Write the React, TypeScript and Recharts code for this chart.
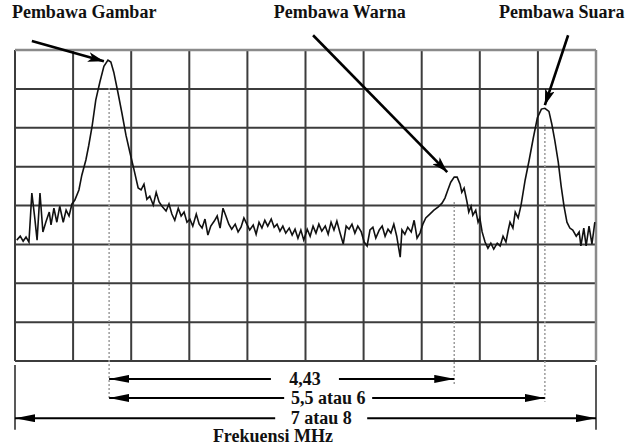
import React from "react";
import { LineChart, Line, XAxis, YAxis, CartesianGrid, ReferenceLine, ReferenceDot } from "recharts";

const FONT = '"Liberation Serif", "Times New Roman", Times, serif';

// Spectrum trace in screen divisions (x: 0-10 horizontal, y: 0-8 vertical)
const traceX = [
  0.03, 0.09, 0.14, 0.19, 0.24, 0.29, 0.34, 0.38, 0.43, 0.48, 0.53, 0.59, 0.62, 0.67, 0.72, 0.77, 0.83, 0.88, 0.93, 0.98,
  1.03, 1.1, 1.15, 1.22, 1.27, 1.33, 1.39, 1.46, 1.53, 1.6, 1.65, 1.7, 1.77, 1.84, 1.91, 1.98, 2.05, 2.12, 2.17, 2.22,
  2.27, 2.32, 2.38, 2.43, 2.48, 2.53, 2.6, 2.65, 2.7, 2.75, 2.81, 2.86, 2.91, 2.96, 3.01, 3.06, 3.12, 3.17, 3.22, 3.27,
  3.32, 3.37, 3.43, 3.48, 3.53, 3.58, 3.63, 3.68, 3.73, 3.79, 3.84, 3.89, 3.94, 3.99, 4.04, 4.1, 4.15, 4.2, 4.25, 4.3,
  4.35, 4.41, 4.46, 4.51, 4.56, 4.61, 4.66, 4.72, 4.77, 4.82, 4.87, 4.92, 4.97, 5.03, 5.08, 5.13, 5.18, 5.23, 5.28, 5.34,
  5.39, 5.44, 5.49, 5.54, 5.59, 5.65, 5.7, 5.75, 5.8, 5.85, 5.9, 5.96, 6.01, 6.06, 6.11, 6.16, 6.21, 6.27, 6.32, 6.37,
  6.42, 6.47, 6.52, 6.57, 6.63, 6.66, 6.71, 6.76, 6.82, 6.87, 6.92, 6.97, 7.02, 7.07, 7.14, 7.21, 7.28, 7.35, 7.4, 7.45,
  7.5, 7.56, 7.61, 7.66, 7.69, 7.73, 7.78, 7.81, 7.85, 7.88, 7.93, 7.97, 8.0, 8.04, 8.09, 8.14, 8.19, 8.24, 8.3, 8.35,
  8.4, 8.45, 8.49, 8.52, 8.57, 8.61, 8.66, 8.71, 8.78, 8.85, 8.92, 8.99, 9.06, 9.12, 9.19, 9.24, 9.29, 9.35, 9.4, 9.45,
  9.5, 9.55, 9.6, 9.66, 9.71, 9.74, 9.79, 9.83, 9.88, 9.93, 9.98,
];
const traceY = [
  3.11, 3.21, 3.08, 3.19, 3.06, 4.32, 3.68, 3.11, 4.32, 3.32, 3.57, 3.83, 3.5, 3.93, 3.57, 3.98, 3.57, 3.88, 3.73, 4.04,
  4.14, 4.4, 4.78, 5.17, 5.55, 6.07, 6.71, 7.17, 7.58, 7.74, 7.69, 7.43, 6.92, 6.38, 5.81, 5.35, 4.91, 4.45, 4.4, 4.55,
  4.16, 4.24, 4.01, 4.34, 4.09, 3.98, 3.86, 4.04, 3.78, 3.62, 3.93, 3.73, 3.83, 3.57, 3.65, 3.47, 3.78, 3.52, 3.42, 3.65,
  3.24, 3.47, 3.6, 3.73, 3.42, 3.93, 3.73, 3.52, 3.39, 3.52, 3.32, 3.44, 3.68, 3.52, 3.37, 3.5, 3.26, 3.57, 3.42, 3.62,
  3.47, 3.65, 3.44, 3.52, 3.34, 3.47, 3.29, 3.42, 3.24, 3.39, 3.16, 3.37, 3.11, 3.39, 3.21, 3.47, 3.29, 3.52, 3.34, 3.47,
  3.26, 3.57, 3.37, 3.6, 3.32, 3.01, 3.47, 3.39, 3.52, 3.29, 3.47, 3.32, 3.06, 2.96, 3.37, 3.44, 3.16, 3.37, 3.47, 3.21,
  3.39, 3.29, 3.52, 3.21, 2.67, 3.37, 3.26, 3.44, 3.32, 3.62, 3.16, 3.29, 3.52, 3.68, 3.78, 3.88, 3.96, 4.06, 4.19, 4.4,
  4.6, 4.73, 4.73, 4.55, 4.34, 4.45, 4.09, 3.83, 3.98, 3.75, 3.88, 3.57, 3.68, 3.32, 3.06, 2.9, 3.03, 2.88, 3.03, 2.96,
  3.21, 3.06, 3.37, 3.57, 3.42, 3.83, 3.68, 4.01, 4.65, 5.17, 5.73, 6.25, 6.48, 6.5, 6.42, 6.09, 5.68, 5.12, 4.5, 3.98,
  3.57, 3.42, 3.37, 3.21, 3.32, 2.96, 3.42, 2.96, 3.47, 3.01, 3.57,
];

const gridX = [0, 1, 2, 3, 4, 5, 6, 7, 8, 9, 10];
const gridY = [0, 1, 2, 3, 4, 5, 6, 7, 8];

// carriers: name, marker position, dotted guide extent, label and pointer arrow
const carrierNames = ["Pembawa Gambar", "Pembawa Warna", "Pembawa Suara"];
const carrierX = [1.62, 7.56, 9.12];
const guideTop = [7.02, 4.09, 6.07];
const guideBottom = [-1.0, -0.62, -1.05];
const nameX = [1.19, 5.59, 9.41];
const nameY = 8.97;
const pointerStart = [
  [0.29, 8.23],
  [5.13, 8.38],
  [9.52, 8.38],
];
const pointerEnd = [
  [1.53, 7.71],
  [7.44, 4.86],
  [9.12, 6.58],
];

// frequency spacings (MHz) drawn as dimension lines under the screen
const spanLabels = ["4,43", "5,5 atau 6", "7 atau 8"];
const spanFrom = [1.62, 1.62, 0];
const spanTo = [7.56, 9.12, 10];
const spanLevel = [-0.46, -0.95, -1.47];
const spanTextX = [4.99, 5.39, 5.27];
const spanGap = [34, 44, 46];
const endTickTop = -0.1;
const endTickBottom = -1.77;
const axisTitle = "Frekuensi MHz";
const axisTitleX = 4.44;
const axisTitleY = -1.93;

const data = traceX.map((x, i) => ({ x, y: traceY[i] }));

const arrowShape = (width: number, start: boolean, end: boolean, marker: string) => (p: any) => (
  <line
    x1={p.x1}
    y1={p.y1}
    x2={p.x2}
    y2={p.y2}
    stroke="#000"
    strokeWidth={width}
    markerStart={start ? `url(#${marker})` : undefined}
    markerEnd={end ? `url(#${marker})` : undefined}
  />
);

const textLabel = (text: string, gap = 0, size = 18) => (props: any) => {
  const vb = props.viewBox || { x: 0, y: 0, width: 0, height: 0 };
  const cx = vb.x + (vb.width || 0) / 2;
  const cy = vb.y + (vb.height || 0) / 2;
  return (
    <g>
      {gap > 0 && <rect x={cx - gap} y={cy - 9} width={gap * 2} height={18} fill="#fff" />}
      <text
        x={cx}
        y={cy}
        textAnchor="middle"
        dominantBaseline="central"
        style={{ fontFamily: FONT, fontWeight: 700, fontSize: size }}
        fill="#111"
      >
        {text}
      </text>
    </g>
  );
};

export default function App() {
  return (
    <div style={{ position: "absolute", left: 0, top: 0, width: 627, height: 446, background: "#fff" }}>
      <svg width={0} height={0} style={{ position: "absolute" }}>
        <defs>
          <marker id="ptr" viewBox="0 0 16 10" refX={16} refY={5} markerWidth={16} markerHeight={10} markerUnits="userSpaceOnUse" orient="auto-start-reverse">
            <path d="M0,0 L16,5 L0,10 L4,5 Z" fill="#000" />
          </marker>
          <marker id="dim" viewBox="0 0 20 8" refX={20} refY={4} markerWidth={20} markerHeight={8} markerUnits="userSpaceOnUse" orient="auto-start-reverse">
            <path d="M0,0 L20,4 L0,8 Z" fill="#000" />
          </marker>
        </defs>
      </svg>
      <LineChart width={627} height={446} data={data} margin={{ top: 50, right: 31, bottom: 85, left: 15 }}>
        <XAxis dataKey="x" type="number" domain={[0, 10]} ticks={gridX} allowDataOverflow hide />
        <YAxis type="number" domain={[0, 8]} ticks={gridY} allowDataOverflow hide />
        <CartesianGrid stroke="#3c3c3c" strokeWidth={2} />
        <ReferenceLine y={8} stroke="#8a8a8a" strokeWidth={2.5} ifOverflow="visible" />
        <ReferenceLine x={10} stroke="#8a8a8a" strokeWidth={2.5} ifOverflow="visible" />

        {carrierX.map((cx, i) => (
          <ReferenceLine
            key={`guide-${i}`}
            segment={[
              { x: cx, y: guideTop[i] },
              { x: cx, y: guideBottom[i] },
            ]}
            stroke="#9c9c9c"
            strokeWidth={1.5}
            strokeDasharray="2 2"
            ifOverflow="visible"
          />
        ))}

        <Line
          dataKey="y"
          type="linear"
          stroke="#111"
          strokeWidth={1.6}
          dot={false}
          isAnimationActive={false}
        />

        {carrierNames.map((name, i) => (
          <ReferenceLine
            key={`ptr-${i}`}
            segment={[
              { x: pointerStart[i][0], y: pointerStart[i][1] },
              { x: pointerEnd[i][0], y: pointerEnd[i][1] },
            ]}
            ifOverflow="visible"
            shape={arrowShape(2.6, false, true, "ptr")}
          />
        ))}
        {carrierNames.map((name, i) => (
          <ReferenceDot
            key={`name-${i}`}
            x={nameX[i]}
            y={nameY}
            r={0}
            stroke="none"
            fill="none"
            ifOverflow="visible"
            label={{ content: textLabel(name) }}
          />
        ))}

        {[0, 10].map((x) => (
          <ReferenceLine
            key={`end-${x}`}
            segment={[
              { x, y: endTickTop },
              { x, y: endTickBottom },
            ]}
            stroke="#222"
            strokeWidth={1.5}
            ifOverflow="visible"
          />
        ))}
        {spanLabels.map((label, i) => (
          <ReferenceLine
            key={`span-${i}`}
            segment={[
              { x: spanFrom[i], y: spanLevel[i] },
              { x: spanTo[i], y: spanLevel[i] },
            ]}
            ifOverflow="visible"
            shape={arrowShape(2, true, true, "dim")}
          />
        ))}
        {spanLabels.map((label, i) => (
          <ReferenceDot
            key={`spanlbl-${i}`}
            x={spanTextX[i]}
            y={spanLevel[i]}
            r={0}
            stroke="none"
            fill="none"
            ifOverflow="visible"
            label={{ content: textLabel(label, spanGap[i]) }}
          />
        ))}
        <ReferenceDot
          x={axisTitleX}
          y={axisTitleY}
          r={0}
          stroke="none"
          fill="none"
          ifOverflow="visible"
          label={{ content: textLabel(axisTitle) }}
        />
      </LineChart>
    </div>
  );
}
